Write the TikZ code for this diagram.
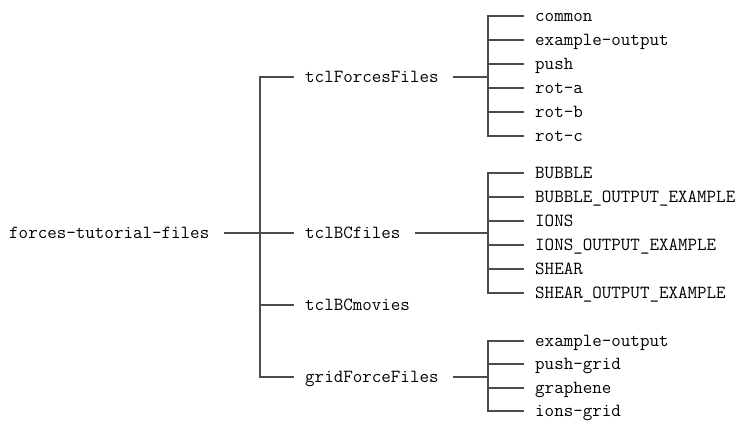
\documentclass[tikz,border=0pt]{standalone}

\begin{document}
\begin{tikzpicture}[
    x=1pt, y=-1pt,
    dir/.style={font=\ttfamily\fontsize{18.5}{22}\selectfont, anchor=west,
        inner xsep=0pt, inner ysep=1pt, text height=11.6pt, text depth=1.6pt},
    link/.style={draw=black!70, line width=1.5pt},
    fromdir/.style={link, shorten <=14.5pt},
    todir/.style={link, shorten >=11pt}
    ]
\useasboundingbox (0,0) rectangle (738,421);

%root
\node[dir] (root) at (9,233) {forces-tutorial-files};
\coordinate (rootbus) at (260,233);

%level 1
\node[dir] (forces) at (305,77) {tclForcesFiles};
\node[dir] (bcfiles) at (305,233) {tclBCfiles};
\node[dir] (bcmovies) at (305,305) {tclBCmovies};
\node[dir] (gridforce) at (305,377) {gridForceFiles};

\draw[fromdir] (root.east) -- (rootbus);
\foreach \n in {forces,bcfiles,bcmovies,gridforce}
    \draw[todir] (rootbus) |- (\n.west);

%leaves of tclForcesFiles
\coordinate (forcesbus) at (488,77);
\foreach \name [count=\i] in {common,example-output,push,rot-a,rot-b,rot-c}
    \node[dir] (forces-\i) at (535,{16+24*(\i-1)}) {\name};
\draw[fromdir] (forces.east) -- (forcesbus);
\foreach \i in {1,...,6}
    \draw[todir] (forcesbus) |- (forces-\i.west);

%leaves of tclBCfiles
\coordinate (bcbus) at (488,233);
\foreach \name [count=\i] in {BUBBLE,BUBBLE\_OUTPUT\_EXAMPLE,IONS,
        IONS\_OUTPUT\_EXAMPLE,SHEAR,SHEAR\_OUTPUT\_EXAMPLE}
    \node[dir] (bc-\i) at (535,{173+24*(\i-1)}) {\name};
\draw[fromdir] (bcfiles.east) -- (bcbus);
\foreach \i in {1,...,6}
    \draw[todir] (bcbus) |- (bc-\i.west);

%leaves of gridForceFiles
\coordinate (gridbus) at (488,377);
\foreach \name/\y [count=\i] in {example-output/341,push-grid/364,
        graphene/388,ions-grid/411}
    \node[dir] (grid-\i) at (535,\y) {\name};
\draw[fromdir] (gridforce.east) -- (gridbus);
\foreach \i in {1,...,4}
    \draw[todir] (gridbus) |- (grid-\i.west);
\end{tikzpicture}
\end{document}
